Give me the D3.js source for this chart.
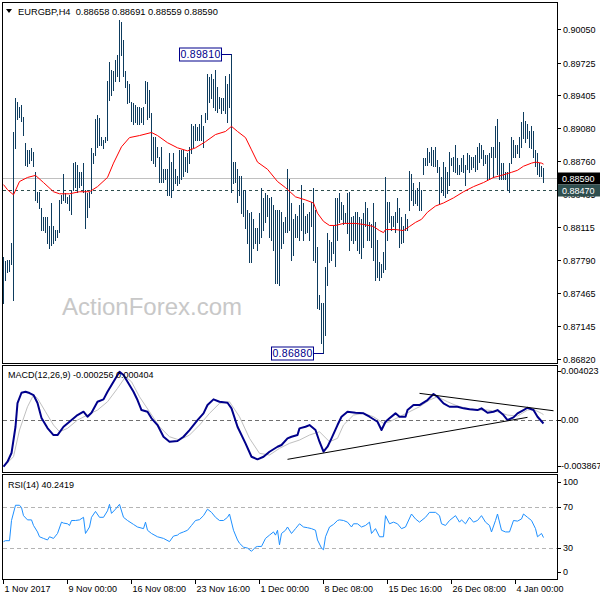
<!DOCTYPE html>
<html><head><meta charset="utf-8">
<script src="https://cdn.jsdelivr.net/npm/d3@7"></script>
<style>body{margin:0;background:#fff}svg{display:block}text{font-family:"Liberation Sans",Arial,sans-serif}</style>
</head><body><svg id="c" width="600" height="600"></svg>
<script>
const symbol = "EURGBP,H4";
const lastOHLC = ["0.88658","0.88691","0.88559","0.88590"];
const highs = [
0.8782,0.8778,0.8779,0.8779,0.8796,0.8904,0.8938,0.8934,0.8929,0.8931,
0.8919,0.8894,0.8887,0.8887,0.8889,0.8885,0.8865,0.8846,0.8846,0.8830,
0.8821,0.8821,0.8821,0.8812,0.8835,0.8812,0.8809,0.8809,0.8838,0.8843,
0.8863,0.8845,0.8841,0.8843,0.8848,0.8874,0.8875,0.8872,0.8865,0.8865,
0.8874,0.8848,0.8845,0.8846,0.8889,0.8884,0.8917,0.8921,0.8918,0.8900,
0.8897,0.8900,0.8954,0.8973,0.8965,0.8964,0.8975,0.8980,0.9014,0.9012,
0.8995,0.8964,0.8954,0.8951,0.8934,0.8933,0.8931,0.8929,0.8929,0.8928,
0.8929,0.8954,0.8953,0.8946,0.8923,0.8900,0.8900,0.8890,0.8880,0.8890,
0.8868,0.8868,0.8868,0.8884,0.8875,0.8884,0.8868,0.8861,0.8887,0.8887,
0.8887,0.8880,0.8884,0.8890,0.8912,0.8910,0.8912,0.8909,0.8912,0.8921,
0.8910,0.8923,0.8961,0.8958,0.8961,0.8956,0.8965,0.8949,0.8939,0.8938,
0.8938,0.8959,0.8951,0.8961,0.8981,0.8875,0.8875,0.8868,0.8861,0.8861,
0.8848,0.8848,0.8828,0.8825,0.8826,0.8819,0.8811,0.8811,0.8825,0.8850,
0.8840,0.8845,0.8843,0.8840,0.8841,0.8833,0.8828,0.8828,0.8828,0.8826,
0.8816,0.8821,0.8868,0.8858,0.8835,0.8819,0.8824,0.8822,0.8833,0.8853,
0.8835,0.8822,0.8824,0.8826,0.8836,0.8850,0.8828,0.8792,0.8745,0.8737,
0.8737,0.8772,0.8806,0.8799,0.8797,0.8812,0.8840,0.8840,0.8845,0.8836,
0.8833,0.8825,0.8845,0.8846,0.8821,0.8822,0.8826,0.8826,0.8821,0.8819,
0.8825,0.8836,0.8830,0.8816,0.8814,0.8835,0.8816,0.8799,0.8777,0.8775,
0.8787,0.8860,0.8836,0.8836,0.8822,0.8822,0.8826,0.8840,0.8830,0.8821,
0.8812,0.8824,0.8819,0.8866,0.8863,0.8855,0.8848,0.8850,0.8856,0.8848,
0.8879,0.8879,0.8889,0.8885,0.8890,0.8887,0.8890,0.8877,0.8870,0.8860,
0.8875,0.8870,0.8865,0.8885,0.8879,0.8880,0.8892,0.8879,0.8872,0.8879,
0.8882,0.8872,0.8884,0.8882,0.8880,0.8880,0.8882,0.8890,0.8894,0.8892,
0.8887,0.8882,0.8882,0.8884,0.8890,0.8890,0.8910,0.8917,0.8895,0.8874,
0.8874,0.8865,0.8865,0.8874,0.8900,0.8897,0.8892,0.8892,0.8900,0.8914,
0.8924,0.8915,0.8912,0.8905,0.8910,0.8905,0.8887,0.8884,0.8874,0.8871,
0.88691];
const lows = [
0.8737,0.8760,0.8767,0.8768,0.8775,0.8740,0.8889,0.8917,0.8919,0.8915,
0.8902,0.8872,0.8871,0.8874,0.8877,0.8871,0.8838,0.8836,0.8830,0.8809,
0.8809,0.8807,0.8796,0.8791,0.8794,0.8796,0.8799,0.8802,0.8807,0.8835,
0.8838,0.8836,0.8835,0.8828,0.8824,0.8848,0.8851,0.8846,0.8851,0.8853,
0.8846,0.8811,0.8821,0.8831,0.8845,0.8874,0.8882,0.8890,0.8892,0.8892,
0.8889,0.8895,0.8897,0.8936,0.8941,0.8946,0.8954,0.8959,0.8954,0.8980,
0.8959,0.8949,0.8933,0.8934,0.8915,0.8912,0.8914,0.8912,0.8912,0.8914,
0.8912,0.8933,0.8917,0.8919,0.8877,0.8874,0.8871,0.8880,0.8856,0.8856,
0.8856,0.8858,0.8843,0.8843,0.8841,0.8848,0.8855,0.8853,0.8855,0.8858,
0.8861,0.8866,0.8865,0.8874,0.8884,0.8890,0.8897,0.8897,0.8897,0.8897,
0.8890,0.8914,0.8917,0.8934,0.8938,0.8929,0.8926,0.8924,0.8928,0.8923,
0.8926,0.8923,0.8914,0.8929,0.8846,0.8855,0.8856,0.8836,0.8843,0.8825,
0.8822,0.8811,0.8796,0.8777,0.8777,0.8791,0.8796,0.8789,0.8796,0.8802,
0.8809,0.8816,0.8822,0.8802,0.8799,0.8789,0.8757,0.8757,0.8755,0.8791,
0.8796,0.8807,0.8807,0.8809,0.8779,0.8784,0.8802,0.8802,0.8799,0.8809,
0.8799,0.8806,0.8807,0.8799,0.8812,0.8779,0.8777,0.8732,0.8731,0.8698,
0.8688,0.8706,0.8755,0.8777,0.8779,0.8786,0.8773,0.8799,0.8816,0.8819,
0.8814,0.8816,0.8806,0.8789,0.8799,0.8796,0.8799,0.8789,0.8786,0.8781,
0.8792,0.8812,0.8799,0.8799,0.8792,0.8779,0.8760,0.8763,0.8760,0.8763,
0.8767,0.8770,0.8799,0.8816,0.8809,0.8812,0.8807,0.8816,0.8792,0.8796,
0.8797,0.8809,0.8809,0.8828,0.8838,0.8833,0.8835,0.8833,0.8828,0.8828,
0.8863,0.8872,0.8872,0.8875,0.8872,0.8871,0.8871,0.8865,0.8835,0.8846,
0.8843,0.8841,0.8845,0.8853,0.8872,0.8866,0.8865,0.8863,0.8863,0.8866,
0.8865,0.8853,0.8868,0.8865,0.8868,0.8870,0.8866,0.8868,0.8875,0.8879,
0.8872,0.8874,0.8858,0.8858,0.8880,0.8860,0.8880,0.8863,0.8858,0.8858,
0.8858,0.8858,0.8848,0.8846,0.8874,0.8880,0.8880,0.8884,0.8880,0.8890,
0.8899,0.8895,0.8899,0.8890,0.8889,0.8880,0.8871,0.8863,0.8861,0.8861,
0.88559];
const maIdx = [0,2,5,8,12,16,20,25,28,33,38,43,47,52,55,59,63,68,74,77,82,87,92,96,101,106,111,114,117,121,124,127,132,137,141,146,151,155,157,160,163,166,170,176,180,185,188,190,191,196,200,203,206,209,212,216,220,225,230,235,240,245,249,254,257,260,264,266,269,270];
const maVal = [0.8853,0.8848,0.8843,0.8856,0.8860,0.8862,0.8855,0.8846,0.8844,0.8844,0.8846,0.8846,0.8851,0.8860,0.8874,0.8890,0.8899,0.8901,0.8904,0.8901,0.8894,0.8889,0.8886,0.8889,0.8895,0.8902,0.8905,0.8910,0.8905,0.8899,0.8887,0.8875,0.8868,0.8856,0.8850,0.8841,0.8838,0.8835,0.8825,0.8817,0.8813,0.8813,0.8815,0.8815,0.8814,0.8812,0.8808,0.8806,0.8809,0.8809,0.8808,0.8812,0.8816,0.8819,0.8826,0.8832,0.8835,0.8840,0.8846,0.8851,0.8855,0.8860,0.8862,0.8865,0.8867,0.8871,0.8874,0.8875,0.8874,0.8873];
const priceTicks = [0.90050,0.89725,0.89405,0.89080,0.88760,0.88435,0.88115,0.87790,0.87465,0.87145,0.86820];
const bidPrice = 0.88590, levelPrice = 0.88470;
const peakLabel = [114, 0.89810], troughLabel = [160, 0.86880];

const macdIdx = [0,2,4,6,7,9,11,13,15,17,19,22,25,27,30,33,37,40,42,44,47,50,52,55,58,60,62,65,67,69,72,74,77,80,83,87,90,93,97,100,102,105,108,112,114,117,121,124,127,130,133,137,139,142,144,147,148,151,153,156,158,160,162,164,167,169,172,176,180,183,187,189,191,193,196,198,201,202,205,208,212,215,217,220,223,227,230,233,237,239,242,245,247,250,252,255,257,260,262,265,267,270];
const macdVal = [-0.003475,-0.003102,-0.002455,-0.000498,0.001265,0.002031,0.002106,0.002009,0.00186,0.001265,0.000149,-0.000595,-0.001116,-0.001116,-0.000498,-0.000126,0.000372,0.000618,0.000246,0.000543,0.001362,0.00154,0.002106,0.00285,0.003594,0.003348,0.00285,0.002106,0.001488,0.000744,0.000618,0.000126,-0.000372,-0.001242,-0.001614,-0.001562,-0.001242,-0.000744,0,0.000498,0.001116,0.00154,0.001362,0.001287,0.00087,-0.000498,-0.001734,-0.00273,-0.002924,-0.00273,-0.002358,-0.001986,-0.00186,-0.001362,-0.001242,-0.001116,-0.000618,-0.000498,-0.000372,-0.000744,-0.001614,-0.002358,-0.001986,-0.001362,-0.000372,0.000246,0.000618,0.000543,0.000498,0.000246,-0.000126,-0.000744,-0.000126,0.000126,0.000498,0.000246,0.000246,0.000744,0.001116,0.001116,0.001488,0.001934,0.001734,0.001242,0.00099,0.00099,0.00087,0.000796,0.000744,0.00087,0.000543,0.000618,0.000744,0.000372,0,0.000201,0.000498,0.000744,0.000915,0.000744,0.000246,-0.000256];
const sigIdx = [0,5,8,12,15,17,21,25,28,32,37,42,47,52,57,61,64,68,73,78,83,88,93,98,103,108,113,118,123,128,133,138,143,148,153,158,163,167,170,175,180,185,190,193,198,203,208,213,217,222,227,232,237,242,247,252,257,262,265,269,270];
const sigVal = [-0.003475,-0.00273,-0.000744,0.00099,0.00186,0.001614,0.000618,-0.000372,-0.00087,-0.000618,0,0.000372,0.000744,0.001362,0.002358,0.003222,0.00285,0.001734,0.000618,-0.000498,-0.001242,-0.001488,-0.001116,-0.000372,0.000498,0.001242,0.001362,0.000246,-0.001362,-0.002478,-0.002604,-0.002106,-0.001734,-0.001488,-0.001116,-0.00087,-0.001614,-0.001362,-0.000372,0.000372,0.000498,0.000246,-0.000246,-0.000126,0.000246,0.000618,0.00099,0.001488,0.001734,0.001362,0.001042,0.00087,0.000744,0.000744,0.000618,0.000372,0.000298,0.000744,0.000796,0.000498,0.000404];
const macdTicks = [0.004023, 0, -0.003867];
const macdTicksText = ["0.004023","0.00","-0.003867"];
const trendUpperIdx = [208, 275], trendUpperVal = [0.001987, 0.000692];
const trendLowerIdx = [142, 262], trendLowerVal = [-0.002924, 0.000201];

const rsiIdx = [0,1,3,4,6,8,9,10,12,14,15,17,18,20,22,23,25,27,29,30,32,33,34,36,38,40,41,43,44,46,48,50,52,53,54,56,58,60,62,65,67,70,71,72,74,77,80,83,85,87,88,90,92,94,96,98,100,102,104,106,108,110,112,113,115,117,118,120,122,124,126,127,129,131,133,135,136,137,138,139,141,142,144,146,148,150,152,154,156,157,159,160,161,163,165,167,168,170,172,174,175,177,179,181,183,184,186,188,190,191,193,195,197,199,201,204,206,208,211,213,216,218,219,221,223,226,228,229,231,233,235,237,239,241,243,244,246,247,249,251,253,255,257,259,260,262,264,266,267,269,270];
const rsiVal = [36.3,37.2,37.2,56.8,71.6,71.6,69.4,61.5,57.4,57.4,52,45.7,41,39.4,37.9,41,39.4,44.2,55.2,54.3,53.6,52,56.8,56.8,57.4,59.9,44.2,50.5,59.9,65.6,59.9,59.9,66.2,72.5,63.7,67.8,72.5,59.9,56.8,53,50.5,48.9,55.2,47.3,44.2,41,39.4,36.3,41.7,42.6,44.2,45.7,47.3,52,56.8,57.7,61.5,67.8,64.7,59.9,56.8,56.8,59.9,63.1,47.3,37.9,34.7,30.9,30,26.9,30.9,31.6,31.6,39.4,42.6,45.7,42.6,47.3,33.2,44.2,47.3,50.5,44.2,48.9,53.6,50.5,49.8,48.9,47.3,37.9,30,28.4,41,50.5,53,56.8,57.4,56.8,55.2,50.5,53.6,53.6,50.5,52,55.2,44.2,48.9,41,41,61.5,53.6,55.2,53.6,48.9,50.5,63.1,58.3,55.2,59.9,64.7,64.7,61.5,53.6,52,56.8,61.5,55.2,57.4,53.6,59.9,55.2,56.8,61.5,55.2,52,45.7,56.8,63.1,47.3,45.7,45.7,56.8,56.2,58.3,63.1,59.9,56.8,48.9,41,44.2,40.2419];
const rsiTicks = [100, 70, 30, 0];
const rsiLevels = [70, 30];

const timeIdx = [0,32,64,96,128,160,192,224,256];
const timeLabels = ["1 Nov 2017","9 Nov 00:00","16 Nov 08:00","23 Nov 16:00","1 Dec 00:00","8 Dec 08:00","15 Dec 16:00","26 Dec 08:00","4 Jan 00:00"];

const svg = d3.select("#c");
const FS = 9;
const x = d3.scaleLinear().domain([0, 270]).range([3.5, 543.5]);
const yP = d3.scaleLinear().domain([0.8682, 0.9005]).range([359.3, 29.3]);
const yM = d3.scaleLinear().domain([-0.003867, 0.004023]).range([472, 366]);
const yR = d3.scaleLinear().domain([0, 100]).range([579, 476]);

const defs = svg.append("defs");
[["cp",3,3,554,360],["cm",3,366,554,106],["cr",3,475,554,104]].forEach(([id,a,b,w,h]) =>
  defs.append("clipPath").attr("id", id).append("rect").attr("x",a).attr("y",b).attr("width",w).attr("height",h));

// ---------- price panel ----------
const gp = svg.append("g").attr("clip-path","url(#cp)");
gp.append("text").attr("x",62).attr("y",315).attr("font-size",24).attr("fill","#c8c8c8").text("ActionForex.com");
const yb = Math.floor(yP(bidPrice)) + 0.5;
gp.append("line").attr("x1",3).attr("x2",557).attr("y1",yb).attr("y2",yb).attr("stroke","#c0c0c0");
const yl = Math.floor(yP(levelPrice)) + 0.5;
gp.append("line").attr("x1",3).attr("x2",557).attr("y1",yl).attr("y2",yl).attr("stroke","#2f4f4f").attr("stroke-dasharray","3,3");

gp.append("g").selectAll("rect").data(highs).join("rect")
  .attr("x", (d,i) => x(i) - 0.5).attr("width", 1)
  .attr("y", d => Math.round(yP(d)))
  .attr("height", (d,i) => Math.max(1, Math.round(yP(lows[i])) - Math.round(yP(d)) + 1))
  .attr("fill", "#0e3c5e").attr("shape-rendering","crispEdges");

const maPts = maIdx.map((d,i) => [d, maVal[i]]);
gp.append("path").attr("d", d3.line().x(d => x(d[0])).y(d => yP(d[1]))(maPts))
  .attr("fill","none").attr("stroke","#ff0000").attr("stroke-width",1);

function priceTag(idx, val, text) {
  const cy = Math.round(yP(val)) + 0.5;
  const right = x(idx) - 10;
  gp.append("line").attr("x1", right).attr("x2", x(idx)).attr("y1", cy).attr("y2", cy).attr("stroke","#00008b");
  gp.append("rect").attr("x", right - 42).attr("y", cy - 6.5).attr("width", 42).attr("height", 13)
    .attr("fill","#fff").attr("stroke","#00008b");
  gp.append("text").attr("x", right - 21).attr("y", cy).attr("dy","0.36em").attr("text-anchor","middle")
    .attr("font-size",10.5).attr("fill","#00008b").attr("letter-spacing",0.3).text(text);
}
priceTag(peakLabel[0], peakLabel[1], peakLabel[1].toFixed(5));
priceTag(troughLabel[0], troughLabel[1], troughLabel[1].toFixed(5));

// header
svg.append("path").attr("d","M6,9L12,9L9,13Z").attr("fill","#000");
svg.append("text").attr("x",18).attr("y",14.5).attr("font-size",9.3).attr("xml:space","preserve")
  .style("white-space","pre").text(symbol + "  " + lastOHLC.join(" "));

// price axis
const ga = svg.append("g");
priceTicks.forEach(t => {
  const yy = Math.round(yP(t)) + 0.5;
  ga.append("line").attr("x1",557).attr("x2",561).attr("y1",yy).attr("y2",yy).attr("stroke","#000");
  ga.append("text").attr("x",563).attr("y",yy).attr("dy","0.35em").attr("font-size",FS).text(t.toFixed(5));
});
function sideBox(val, bg) {
  const cy = Math.floor(yP(val)) + 0.5;
  svg.append("rect").attr("x",558).attr("y",cy-6).attr("width",42).attr("height",12).attr("fill",bg);
  svg.append("text").attr("x",562).attr("y",cy).attr("dy","0.35em").attr("font-size",FS).attr("fill","#fff").text(val.toFixed(5));
}
sideBox(bidPrice, "#000");
sideBox(levelPrice, "#2f4f4f");

// ---------- MACD panel ----------
const gm = svg.append("g").attr("clip-path","url(#cm)");
const y0 = Math.round(yM(0)) + 0.5;
gm.append("line").attr("x1",3).attr("x2",557).attr("y1",y0).attr("y2",y0).attr("stroke","#707070").attr("stroke-dasharray","4,3");
gm.append("path").attr("d", d3.line().x(d => x(d[0])).y(d => yM(d[1]))(sigIdx.map((d,i)=>[d,sigVal[i]])))
  .attr("fill","none").attr("stroke","#c0c0c0").attr("stroke-width",1);
gm.append("path").attr("d", d3.line().x(d => x(d[0])).y(d => yM(d[1]))(macdIdx.map((d,i)=>[d,macdVal[i]])))
  .attr("fill","none").attr("stroke","#00008b").attr("stroke-width",2).attr("stroke-linejoin","round");
[[trendUpperIdx,trendUpperVal],[trendLowerIdx,trendLowerVal]].forEach(([ix,vv]) =>
  gm.append("line").attr("x1",x(ix[0])).attr("y1",yM(vv[0])).attr("x2",x(ix[1])).attr("y2",yM(vv[1])).attr("stroke","#000"));
svg.append("text").attr("x",8).attr("y",377.5).attr("font-size",FS)
  .text("MACD(12,26,9) " + macdVal[macdVal.length-1].toFixed(6) + " " + sigVal[sigVal.length-1].toFixed(6));
macdTicks.forEach((t,i) => {
  const yt = Math.min(Math.max(yM(t), 371), 466);
  svg.append("line").attr("x1",557).attr("x2",561).attr("y1",Math.round(yt)+0.5).attr("y2",Math.round(yt)+0.5).attr("stroke","#000");
  svg.append("text").attr("x",561).attr("y",yt).attr("dy","0.35em").attr("font-size",FS).text(macdTicksText[i]);
});

// ---------- RSI panel ----------
const gr = svg.append("g").attr("clip-path","url(#cr)");
rsiLevels.forEach(l => {
  const yy = Math.round(yR(l)) + 0.5;
  gr.append("line").attr("x1",3).attr("x2",557).attr("y1",yy).attr("y2",yy).attr("stroke","#b4b4b4").attr("stroke-dasharray","4,3");
});
gr.append("path").attr("d", d3.line().x(d => x(d[0])).y(d => yR(d[1]))(rsiIdx.map((d,i)=>[d,rsiVal[i]])))
  .attr("fill","none").attr("stroke","#1e90ff").attr("stroke-width",1);
svg.append("text").attr("x",8).attr("y",487.5).attr("font-size",FS).text("RSI(14) " + rsiVal[rsiVal.length-1].toFixed(4));
rsiTicks.forEach(t => {
  const yt = Math.min(Math.max(yR(t), 482), 572);
  svg.append("line").attr("x1",557).attr("x2",561).attr("y1",Math.round(yt)+0.5).attr("y2",Math.round(yt)+0.5).attr("stroke","#000");
  svg.append("text").attr("x",563).attr("y",yt).attr("dy","0.35em").attr("font-size",FS).text(t);
});

// time axis
timeIdx.forEach((t,i) => {
  const xx = Math.round(x(t)) - 0.5;
  svg.append("line").attr("x1",xx).attr("x2",xx).attr("y1",580).attr("y2",584).attr("stroke","#000");
  svg.append("text").attr("x",xx + 1).attr("y",591.5).attr("font-size",FS).text(timeLabels[i]);
});

// panel frames
[[2.5,2.5,555,361],[2.5,365.5,555,107],[2.5,474.5,555,105]].forEach(([a,b,w,h]) =>
  svg.append("rect").attr("x",a).attr("y",b).attr("width",w).attr("height",h).attr("fill","none").attr("stroke","#000"));
</script></body></html>
